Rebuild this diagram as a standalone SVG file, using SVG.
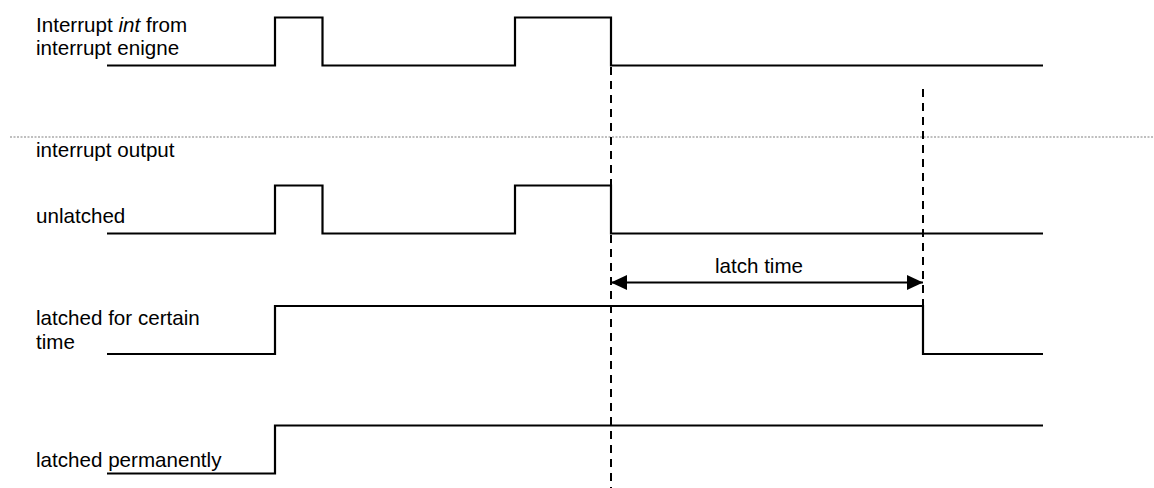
<svg xmlns="http://www.w3.org/2000/svg" width="1154" height="488" viewBox="0 0 1154 488">
<style>
text{font-family:"Liberation Sans",Arial,sans-serif;font-size:20.6px;fill:#000}
.sig{fill:none;stroke:#000;stroke-width:2.2;stroke-linejoin:miter}
.dash{fill:none;stroke:#000;stroke-width:2;stroke-dasharray:8,6}
.dot{fill:none;stroke:#808080;stroke-width:1.2;stroke-dasharray:2,1.5}
.arr{fill:none;stroke:#000;stroke-width:2}
</style>
<defs>
<marker id="ah" viewBox="0 0 16 15" refX="16" refY="7.5" markerWidth="16" markerHeight="15" markerUnits="userSpaceOnUse" orient="auto-start-reverse">
<path d="M0,0 L16,7.5 L0,15 Z" fill="#000"/>
</marker>
</defs>
<line class="dot" x1="10" y1="137" x2="1154" y2="137"/>
<g id="labels">
<text x="36" y="32">Interrupt <tspan font-style="italic">int</tspan> from</text>
<text x="36" y="55">interrupt enigne</text>
<text x="36" y="157">interrupt output</text>
<text x="36" y="223">unlatched</text>
<text x="36" y="325">latched for certain</text>
<text x="36" y="349">time</text>
<text x="36" y="467">latched permanently</text>
</g>
<g id="sig-int">
<path class="sig" d="M107,65.5 H275 V17.5 H322.5 V65.5 H515 V17.5 H611 V65.5 H1043"/>
</g>
<g id="sig-unlatched">
<path class="sig" d="M107,233.5 H275 V185.5 H322.5 V233.5 H515 V185.5 H611 V233.5 H1043"/>
</g>
<g id="sig-latched-time">
<path class="sig" d="M107,354 H275 V306 H923 V354 H1043"/>
</g>
<g id="sig-latched-perm">
<path class="sig" d="M107,473.5 H275 V425.5 H1043"/>
</g>
<g id="connectors">
<line class="dash" x1="611" y1="67" x2="611" y2="488"/>
<line class="dash" x1="923" y1="89" x2="923" y2="306"/>
<line class="arr" x1="611" y1="282.5" x2="923" y2="282.5" marker-start="url(#ah)" marker-end="url(#ah)"/>
</g>
<g id="latch-time-label">
<text x="759" y="273" text-anchor="middle">latch time</text>
</g>
</svg>
